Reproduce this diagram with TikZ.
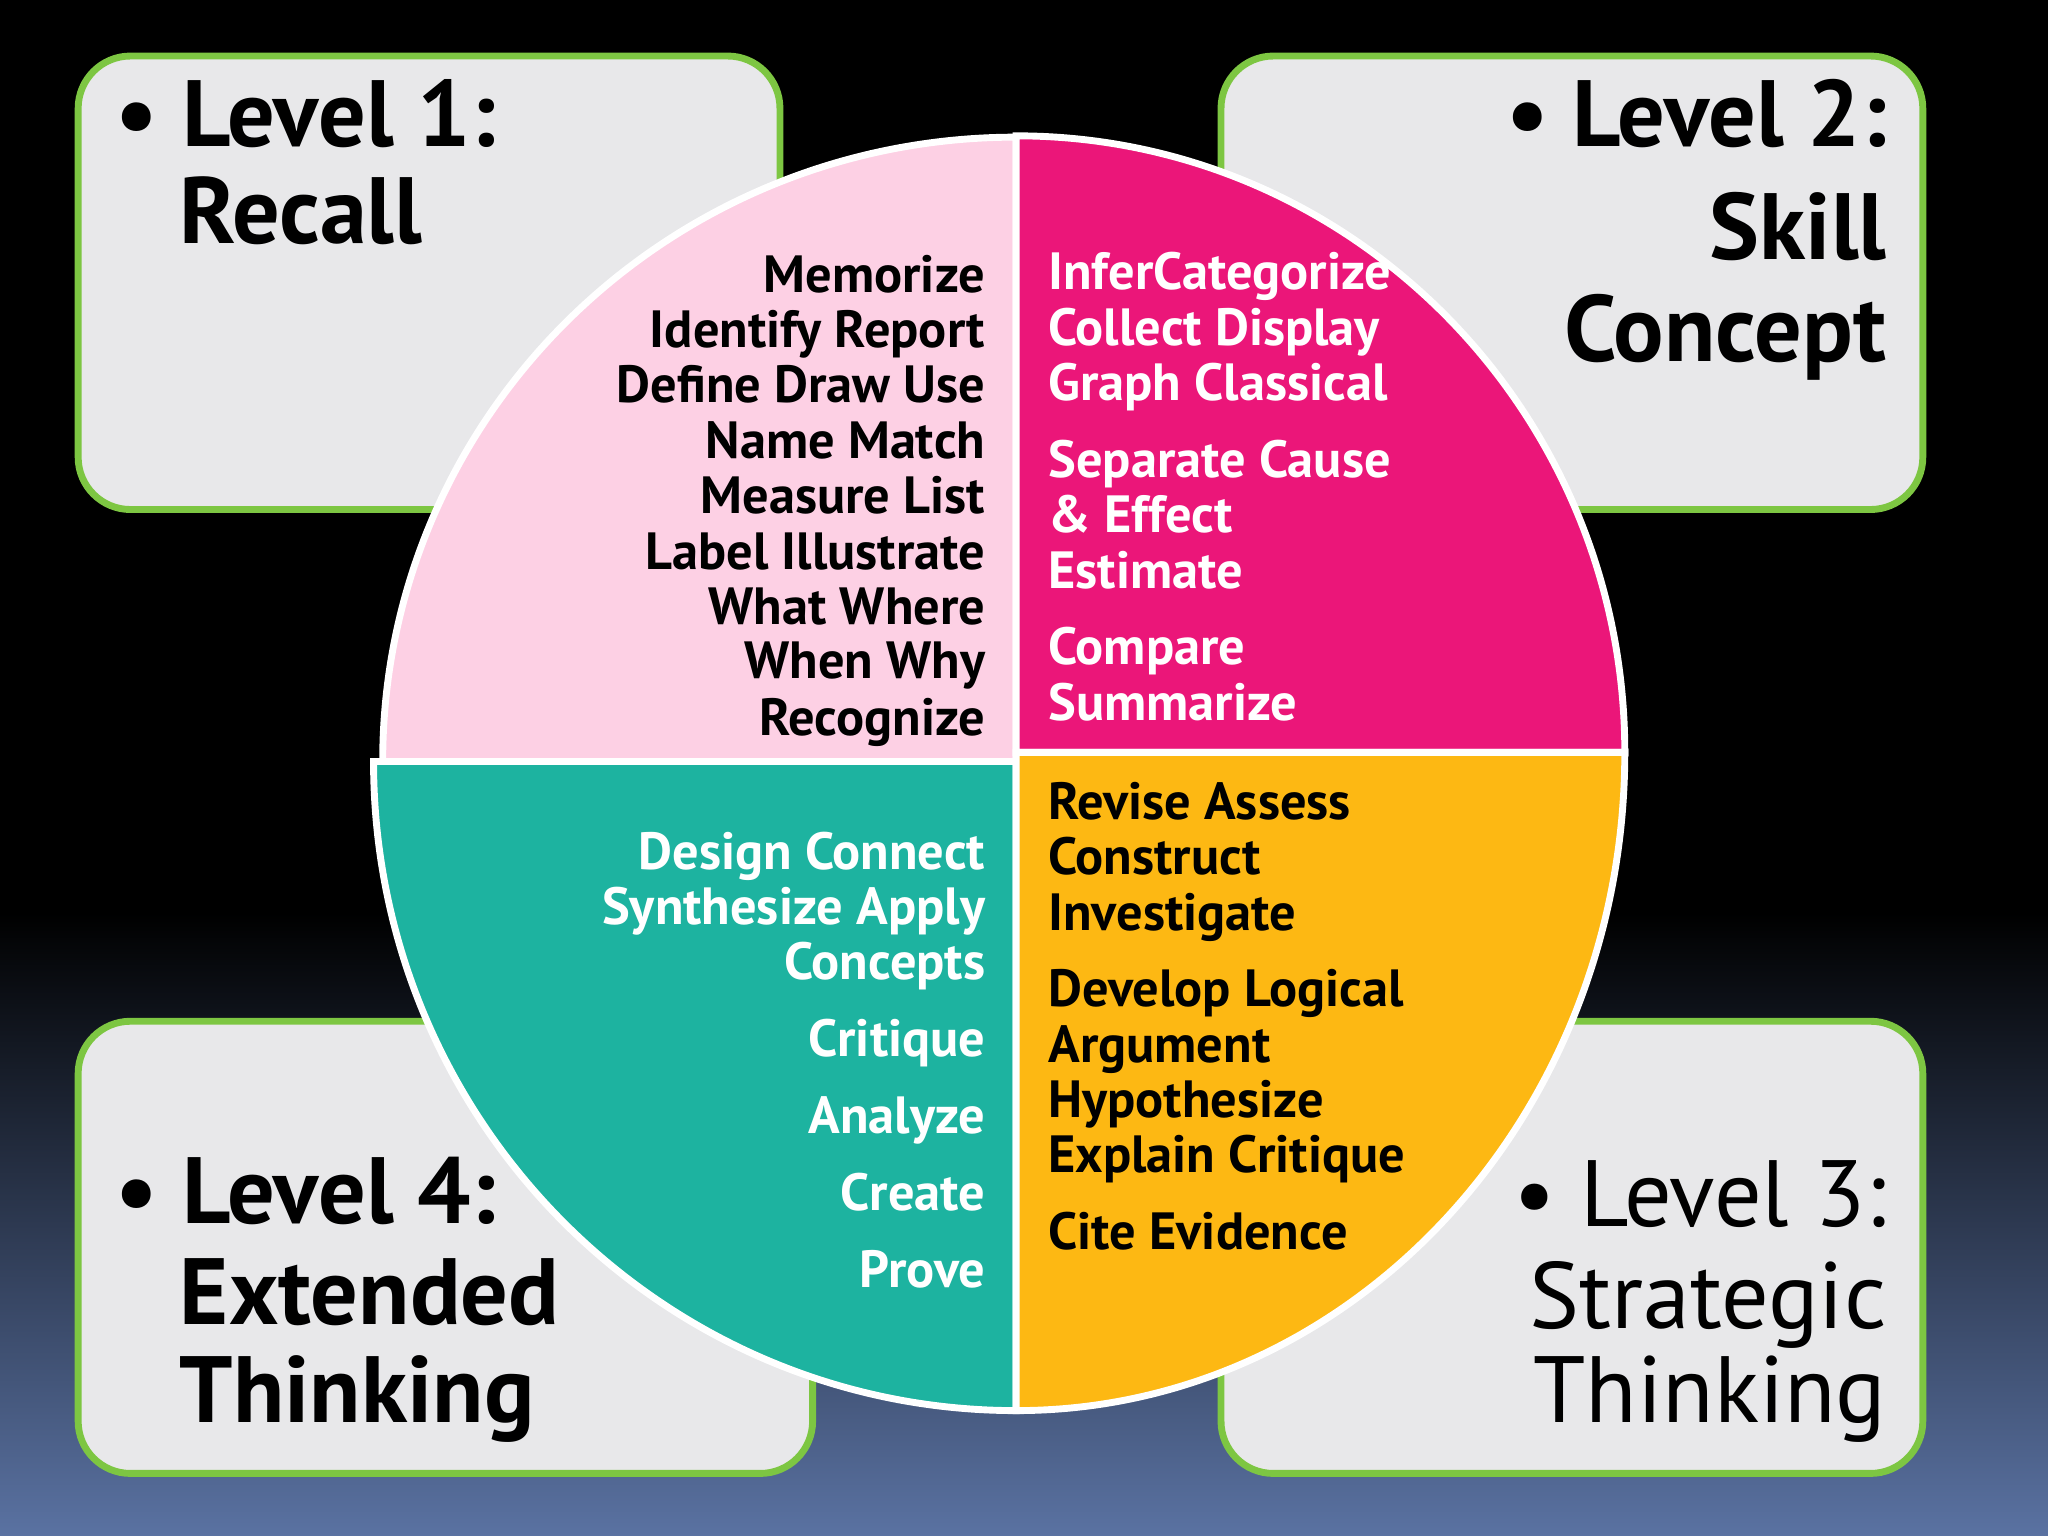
\documentclass[tikz,border=0pt]{standalone}
\usepackage{fontspec}
\setmainfont{PT Sans}
\definecolor{pinkq}{HTML}{FDD0E4}
\definecolor{magq}{HTML}{EB1679}
\definecolor{tealq}{HTML}{1DB3A0}
\definecolor{yelq}{HTML}{FDB813}
\definecolor{boxg}{HTML}{E8E8EA}
\definecolor{boxb}{HTML}{7DC642}
\definecolor{bgb}{HTML}{5A72A2}
\begin{document}
\begin{tikzpicture}[x=0.01cm,y=-0.01cm,
 lvl/.style={rounded corners=0.4cm,fill=boxg,draw=boxb,line width=1.5pt},
 quad/.style={draw=white,line width=1.5pt},
 item/.style={font=\fontsize{11.4}{13}\selectfont\bfseries,inner sep=0pt},
 big/.style={font=\fontsize{20.5}{24}\selectfont\bfseries,inner sep=0pt},
 bigl/.style={font=\fontsize{20.5}{24}\selectfont,inner sep=0pt}]
\useasboundingbox (0,0) rectangle (1568,1176);
\fill[black] (0,0) rectangle (1568,700);
\shade[top color=black,bottom color=bgb] (0,699) rectangle (1568,1176);
\node[lvl,minimum width=5.37cm,minimum height=3.47cm] (b1) at (328.5,216.5) {};
\node[lvl,minimum width=5.37cm,minimum height=3.47cm] (b2) at (1203.5,216.5) {};
\node[lvl,minimum width=5.62cm,minimum height=3.46cm] (b4) at (341,955) {};
\node[lvl,minimum width=5.37cm,minimum height=3.46cm] (b3) at (1203.5,955) {};
% quadrants
\filldraw[quad,fill=pinkq] (778,583) -- (293,583) arc[start angle=180,end angle=90,x radius=485,y radius=-478] -- cycle;
\filldraw[quad,fill=magq] (778,576) -- (778,104) arc[start angle=90,end angle=0,x radius=466,y radius=-472] -- cycle;
\filldraw[quad,fill=tealq] (778,583) -- (778,1080) arc[start angle=270,end angle=180,x radius=492,y radius=-497] -- cycle;
\filldraw[quad,fill=yelq] (778,576) -- (1244,576) arc[start angle=0,end angle=-90,x radius=466,y radius=-504] -- cycle;
% titles
\node[big,anchor=mid west] (t1a) at (88,103) {\textbullet\ Level 1:};
\node[big,anchor=mid west] (t1b) at (137,178) {Recall};
\node[big,anchor=mid east] (t2a) at (1445,103) {\textbullet\ Level 2:};
\node[big,anchor=mid east] (t2b) at (1445,190) {Skill};
\node[big,anchor=mid east] (t2c) at (1445,268) {Concept};
\node[big,anchor=mid west] (t4a) at (88,928) {\textbullet\ Level 4:};
\node[big,anchor=mid west] (t4b) at (137,1005) {Extended};
\node[big,anchor=mid west] (t4c) at (137,1080) {Thinking};
\node[bigl,anchor=mid east] (t3a) at (1445,930) {\textbullet\ Level 3:};
\node[bigl,anchor=mid east] (t3b) at (1445,1008) {Strategic};
\node[bigl,anchor=mid east] (t3c) at (1445,1080) {Thinking};
% pink
\foreach \t/\y [count=\i] in {Memorize/215,Identify Report/257,Define Draw Use/299,Name Match/342,Measure List/384,Label Illustrate/427,What Where/469,When Why/511,Recognize/554}
  \node[item,anchor=mid east] (p\i) at (755,\y) {\t};
% magenta
\foreach \t/\y [count=\i] in {InferCategorize/213,Collect Display/256,Graph Classical/298,Separate Cause/357,\& Effect/399,Estimate/442,Compare/500,Summarize/543}
  \node[item,white,anchor=mid west] (m\i) at (802,\y) {\t};
% yellow
\foreach \t/\y [count=\i] in {Revise Assess/619,Construct/661,Investigate/704,Develop Logical/762,Argument/805,Hypothesize/847,Explain Critique/889,Cite Evidence/948}
  \node[item,anchor=mid west] (y\i) at (802,\y) {\t};
% teal
\foreach \t/\y [count=\i] in {Design Connect/657,Synthesize Apply/699,Concepts/741,Critique/800,Analyze/859,Create/918,Prove/977}
  \node[item,white,anchor=mid east] (g\i) at (755,\y) {\t};
\end{tikzpicture}
\end{document}
